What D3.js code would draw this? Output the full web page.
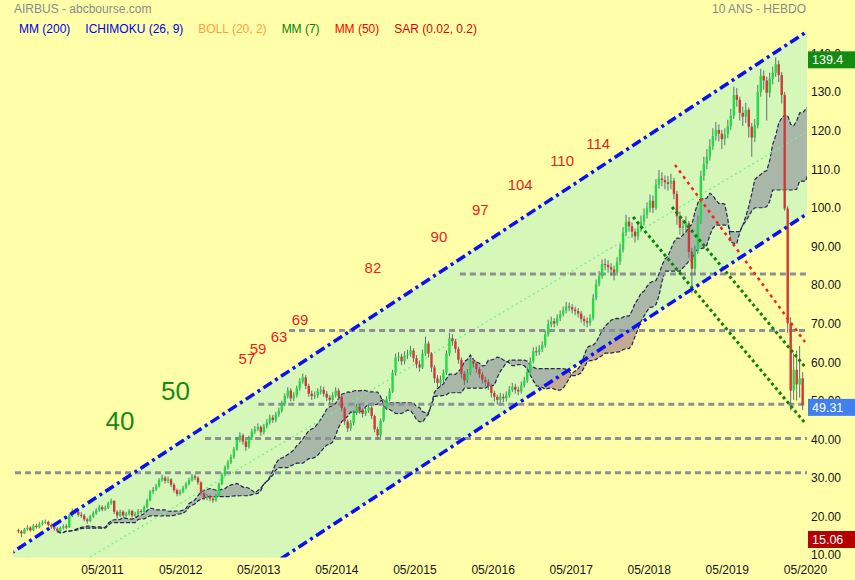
<!DOCTYPE html>
<html><head><meta charset="utf-8">
<script src="https://cdn.jsdelivr.net/npm/d3@7"></script>
<style>html,body{margin:0;padding:0;background:#ffffaa;} svg{display:block;font-family:"Liberation Sans",Arial,sans-serif;}</style>
</head><body><svg id="c" width="855" height="580"></svg>
<script>
// ---------- DATA ----------
const startDate = "2010-04-05";
const stepDays = 14;
const firstOpen = 16.8;
const closes = [16.5,16.0,17.0,17.5,16.8,18.0,17.6,18.4,18.8,19.0,
18.2,17.6,17.2,16.6,17.4,17.8,17.6,20.6,21.8,21.6,
20.8,20.6,19.6,19.2,20.4,21.2,22.0,22.8,22.2,22.6,
23.8,24.4,21.6,20.6,21.6,20.6,21.0,21.8,20.6,21.0,
21.8,21.6,22.8,24.6,26.8,27.4,28.2,29.8,30.4,29.6,
30.0,28.6,27.2,26.2,26.8,27.8,28.8,29.8,30.8,30.4,
29.2,26.4,25.2,25.6,25.0,24.6,25.8,28.8,31.2,33.0,
34.4,35.8,37.8,40.2,41.4,39.8,38.4,40.8,42.4,43.0,
43.6,42.2,43.8,44.8,46.0,45.4,46.8,47.8,49.6,51.6,
53.0,51.0,51.8,53.6,55.4,56.4,54.2,52.2,51.6,51.8,
52.8,53.2,52.2,51.2,50.6,51.8,53.0,51.4,48.4,45.0,
43.2,44.6,47.2,48.8,47.8,47.0,47.8,48.6,46.4,43.0,
41.4,45.2,48.6,50.8,52.8,57.6,61.6,61.8,60.6,62.2,
62.4,63.4,61.4,59.8,59.0,62.6,65.2,62.6,59.0,56.2,
55.0,55.8,57.6,62.6,66.6,65.8,63.8,61.0,57.4,55.6,
57.6,60.6,60.0,58.6,57.2,55.8,55.2,54.2,52.4,51.4,
50.6,51.4,51.0,51.8,53.2,54.0,53.2,52.8,54.4,55.6,
58.0,60.6,63.2,63.0,63.8,64.8,67.6,70.2,71.0,70.4,
71.8,72.8,73.8,74.8,74.6,74.0,73.6,73.0,71.6,71.0,
70.6,71.8,77.0,80.6,82.6,85.8,85.6,85.0,84.4,83.6,
86.4,89.6,94.0,96.8,95.6,94.2,93.0,95.0,96.8,98.6,
100.2,102.2,100.4,106.4,108.0,107.6,107.0,106.6,107.4,104.0,
98.2,95.2,95.6,96.4,89.0,84.6,89.2,97.0,108.6,111.8,
113.6,116.4,119.0,120.6,119.6,118.2,119.4,121.6,124.2,129.6,
128.4,125.0,124.0,125.8,121.4,118.6,121.8,130.4,134.6,133.4,
130.2,133.8,135.4,137.6,134.8,129.6,100.2,70.4,53.0,58.4,
54.6,56.2,49.31];
const highs = [17.2,16.9,17.4,18.1,17.9,18.4,18.5,18.9,19.4,19.6,
19.3,18.6,18.0,17.6,17.8,18.3,18.4,21.0,22.4,22.5,
22.0,21.5,21.0,20.0,20.8,21.7,22.5,23.4,23.3,23.2,
24.2,25.0,24.6,22.0,22.1,22.0,21.6,22.3,22.1,21.6,
22.3,22.3,23.2,25.0,27.2,28.0,28.8,30.3,31.2,30.9,
30.7,30.3,29.0,27.6,27.4,28.3,29.3,30.4,31.4,31.3,
30.8,29.5,26.9,26.3,26.1,25.5,26.3,29.2,31.7,33.6,
35.0,36.5,38.4,40.9,42.2,41.9,40.4,41.3,43.1,43.8,
44.5,44.0,44.4,45.6,46.8,46.7,47.5,48.6,50.4,52.3,
53.9,53.6,52.6,54.3,56.2,57.4,57.0,54.8,53.0,52.8,
53.6,54.2,54.0,52.9,51.9,52.6,53.9,53.6,51.8,48.9,
45.6,45.4,47.9,49.6,49.5,48.4,48.6,49.5,49.0,46.8,
43.6,45.8,49.3,51.6,53.6,58.4,62.6,63.0,62.6,63.2,
63.6,64.6,64.0,62.2,60.8,63.6,67.0,65.8,63.0,59.6,
57.0,56.9,58.5,63.4,68.0,67.6,66.4,64.4,61.6,58.0,
58.6,61.6,61.4,60.6,59.2,57.8,56.6,56.0,54.8,53.0,
52.0,52.4,52.2,52.8,54.2,55.0,54.8,54.0,55.4,56.6,
59.0,61.6,64.2,64.4,64.8,65.8,68.6,71.4,72.2,71.8,
72.8,73.8,74.8,76.0,75.8,75.4,74.8,74.4,73.6,72.4,
72.0,72.8,78.0,81.8,84.0,87.0,87.2,86.8,86.0,85.4,
87.6,91.0,95.4,98.6,98.0,96.6,95.0,96.4,98.4,100.2,
101.8,103.8,103.6,107.8,110.2,109.6,108.8,108.6,109.2,108.2,
104.8,99.4,97.4,98.2,97.0,90.0,90.6,98.4,110.0,113.6,
115.6,118.2,121.0,122.6,122.0,120.6,121.0,123.2,126.0,131.8,
131.4,129.2,126.6,127.6,126.4,122.4,123.4,132.2,136.4,136.0,
134.4,135.4,137.0,139.4,138.6,135.6,130.4,100.8,72.0,62.6,
63.4,64.6,57.8];
const lows = [16.0,15.06,15.8,16.7,16.4,16.6,17.2,17.3,18.0,18.4,
17.8,17.2,16.7,16.1,16.3,17.0,17.1,17.4,20.2,21.0,
20.3,20.0,19.1,18.5,18.9,20.0,20.8,21.6,21.7,21.8,
22.3,23.4,21.0,19.8,20.2,20.0,20.1,20.6,20.1,20.2,
20.7,21.0,21.3,22.5,24.3,26.2,27.0,27.9,29.4,28.9,
29.0,28.0,26.6,25.6,25.8,26.4,27.4,28.4,29.4,29.8,
28.6,25.8,24.6,24.6,24.3,23.9,24.2,25.5,28.5,30.8,
32.5,33.9,35.3,37.4,39.6,39.0,37.4,38.0,40.2,41.8,
42.5,41.3,41.6,43.2,44.2,44.6,44.8,46.2,47.3,49.0,
51.0,50.2,50.3,51.2,53.0,54.8,53.4,51.4,50.6,50.8,
51.1,52.0,51.4,50.3,49.6,50.0,51.2,50.6,47.6,44.1,
42.3,42.6,44.0,46.6,47.0,46.0,46.4,47.2,45.6,42.2,
40.3,40.9,44.8,48.0,50.2,52.4,57.0,60.6,59.6,59.8,
61.2,61.8,60.4,58.8,57.9,58.6,62.0,61.6,57.8,55.0,
53.8,54.0,55.0,57.0,62.0,64.6,62.8,60.0,56.2,54.4,
55.0,57.0,59.0,57.6,56.2,54.8,54.2,53.2,51.2,50.2,
49.4,49.8,50.0,50.2,51.2,52.6,52.2,51.8,52.2,53.8,
55.0,57.4,60.0,62.0,62.2,63.0,64.2,67.0,69.4,69.4,
69.8,71.0,72.2,73.0,73.6,73.0,72.6,72.0,70.6,69.8,
69.4,69.8,71.2,76.4,80.0,82.0,84.2,83.6,82.8,81.6,
82.8,85.6,88.8,93.0,94.2,92.6,91.4,92.0,94.2,95.8,
97.6,99.2,99.0,99.8,105.4,106.0,105.2,104.8,105.2,102.6,
96.0,93.4,93.6,94.0,87.4,78.2,83.0,88.4,96.2,107.4,
110.4,112.6,115.4,117.8,117.6,115.6,116.6,118.4,120.6,123.4,
126.6,123.0,121.6,122.4,118.6,113.6,117.4,121.0,129.2,131.0,
123.0,129.0,132.4,134.4,133.0,127.4,99.6,68.0,47.8,50.6,
50.4,51.2,48.0];

// Ichimoku periods expressed in candles (each candle = 2 weeks): 9w, 26w, 52w, shift 26w
const ichimokuPeriods = [5, 13, 26];
const ichimokuShift = 13;

const xTickDates = ["2011-05-01","2012-05-01","2013-05-01","2014-05-01","2015-05-01","2016-05-01","2017-05-01","2018-05-01","2019-05-01","2020-05-01"];
const yTicks = [10,20,30,40,50,60,70,80,90,100,110,120,130,140];

const supportLevels = [31.7, 40.6, 49.45, 68.6, 83.2];
const supportStarts = ["2010-03-20","2012-08-25","2013-05-01","2013-09-22","2015-11-30"];

const channelUpper = [["2010-03-11", 11.17], ["2020-05-05", 145.9]];
const channelLower = [["2013-08-11", 9.27], ["2020-05-01", 98.5]];
const channelMid = [["2011-03-06", 9.87], ["2020-05-01", 119.8]];
const redTrend = [["2018-09-01", 111.5], ["2020-05-01", 65.6]];
const greenTrendA = [["2018-02-17", 98.0], ["2020-05-01", 44.6]];
const greenTrendB = [["2018-08-18", 100.6], ["2020-05-05", 58.9]];

const levelLabels = ["57","59","63","69","82","90","97","104","110","114"];
const levelLabelDates = ["2013-03-09","2013-04-30","2013-08-06","2013-11-12","2014-10-19","2015-08-24","2016-03-04","2016-09-07","2017-03-22","2017-09-07"];
const levelLabelValues = [61.2, 63.8, 66.9, 71.3, 84.8, 92.8, 99.8, 106.5, 112.5, 117.05];
const bigLabels = ["40","50"];
const bigLabelDates = ["2011-07-24","2012-04-09"];
const bigLabelValues = [45.25, 53.0];

const badgeValues = [139.4, 49.31, 15.06];
const legendItems = ["MM (200)","ICHIMOKU (26, 9)","BOLL (20, 2)","MM (7)","MM (50)","SAR (0.02, 0.2)"];
const titleLeft = "AIRBUS - abcbourse.com";
const titleRight = "10 ANS - HEBDO";

// ---------- CHART ----------
const W = 855, H = 580;
const plot = {left: 13.5, right: 807, top: 0, bottom: 557.5};
const parse = d3.timeParse("%Y-%m-%d");
const t0 = parse(startDate);
const dateAt = i => d3.timeDay.offset(t0, stepDays * i);

const x = d3.scaleTime().domain([parse("2011-05-01"), parse("2020-05-01")]).range([102, 805]);
const y = d3.scaleLinear().domain([10, 140]).range([556.5, 55]);
const FONT = '"Liberation Sans", Arial, sans-serif';

const svg = d3.select("#c");
svg.append("rect").attr("width", W).attr("height", H).attr("fill", "#ffffaa");
const defs = svg.append("defs");
defs.append("clipPath").attr("id", "plotClip").append("rect")
  .attr("x", plot.left).attr("y", plot.top)
  .attr("width", plot.right - plot.left).attr("height", plot.bottom - plot.top);

function linePx(pts) {
  const p = pts.map(d => [x(parse(d[0])), y(d[1])]);
  const m = (p[1][1] - p[0][1]) / (p[1][0] - p[0][0]);
  return xx => p[0][1] + m * (xx - p[0][0]);
}
const upF = linePx(channelUpper), loF = linePx(channelLower);
const chanPoly = [[0, upF(0)], [W, upF(W)], [W, loF(W)], [0, loF(0)]];
const polyStr = chanPoly.map(p => p.join(",")).join(" ");
defs.append("clipPath").attr("id", "chanClip").append("polygon").attr("points", polyStr);

const gp = svg.append("g").attr("clip-path", "url(#plotClip)");
gp.append("polygon").attr("points", polyStr).attr("fill", "#d5f8b8");

// candles
const candles = closes.map((c, i) => {
  const o = i ? closes[i - 1] : firstOpen;
  return {date: dateAt(i), o, c, h: Math.max(highs[i], o, c), l: Math.min(lows[i], o, c)};
});

// ichimoku
function midRange(j, N) {
  let hi = -Infinity, lo = Infinity;
  for (let k = Math.max(0, j - N + 1); k <= j; k++) { hi = Math.max(hi, candles[k].h); lo = Math.min(lo, candles[k].l); }
  return (hi + lo) / 2;
}
const cloud = candles.map((d, j) => ({
  date: dateAt(j + ichimokuShift),
  a: (midRange(j, ichimokuPeriods[0]) + midRange(j, ichimokuPeriods[1])) / 2,
  b: midRange(j, ichimokuPeriods[2])
}));
const area = d3.area().x(d => x(d.date)).y0(d => y(d.b)).y1(d => y(d.a));
gp.append("path").datum(cloud).attr("d", area).attr("fill", "#c4a993");
gp.append("g").attr("clip-path", "url(#chanClip)").append("path").datum(cloud).attr("d", area).attr("fill", "#a9b7a9");
["a", "b"].forEach(k => {
  gp.append("path").datum(cloud)
    .attr("d", d3.line().x(d => x(d.date)).y(d => y(d[k])))
    .attr("fill", "none").attr("stroke", "#1e2b50").attr("stroke-width", 1.2).attr("stroke-dasharray", "4,2");
});

const seg = d3.line().x(d => x(parse(d[0]))).y(d => y(d[1]));
// midline
gp.append("path").attr("d", seg(channelMid)).attr("fill", "none")
  .attr("stroke", "#78ee8c").attr("stroke-width", 1.3).attr("stroke-dasharray", "2,3");

// support lines
const xEnd = x.invert(plot.right);
gp.selectAll(".sup").data(supportLevels).enter().append("line")
  .attr("x1", (d, i) => x(parse(supportStarts[i]))).attr("x2", x(xEnd))
  .attr("y1", d => y(d)).attr("y2", d => y(d))
  .attr("stroke", "#8c9196").attr("stroke-width", 3).attr("stroke-dasharray", "6,4");

// candles draw
const bw = 2.4;
const cg = gp.append("g");
cg.selectAll(".wick").data(candles).enter().append("line")
  .attr("x1", d => x(d.date)).attr("x2", d => x(d.date))
  .attr("y1", d => y(d.h)).attr("y2", d => y(d.l))
  .attr("stroke", "#5a7378").attr("stroke-width", 1);
cg.selectAll(".body").data(candles).enter().append("rect")
  .attr("x", d => x(d.date) - bw / 2).attr("width", bw)
  .attr("y", d => y(Math.max(d.o, d.c)))
  .attr("height", d => Math.max(1, Math.abs(y(d.o) - y(d.c))))
  .attr("fill", d => d.c >= d.o ? "#20dc46" : "#d23838");

// trend lines
gp.append("path").attr("d", seg(redTrend)).attr("fill", "none")
  .attr("stroke", "#ff1c1c").attr("stroke-width", 2.5).attr("stroke-dasharray", "3,4");
[greenTrendA, greenTrendB].forEach(t => {
  gp.append("path").attr("d", seg(t)).attr("fill", "none")
    .attr("stroke", "#0f820f").attr("stroke-width", 3).attr("stroke-dasharray", "3,3");
});
// channel lines
[channelUpper, channelLower].forEach(t => {
  const p = t.map(d => x(parse(d[0])));
  const f = linePx(t);
  gp.append("line").attr("x1", 0).attr("y1", f(0)).attr("x2", W).attr("y2", f(W))
    .attr("stroke", "#0a10f5").attr("stroke-width", 3.5).attr("stroke-dasharray", "10,4,3,4");
});

// annotation numbers
svg.selectAll(".lvl").data(levelLabels).enter().append("text")
  .attr("x", (d, i) => x(parse(levelLabelDates[i]))).attr("y", (d, i) => y(levelLabelValues[i]))
  .attr("dy", "0.36em").attr("text-anchor", "middle")
  .attr("font-family", FONT).attr("font-size", 15).attr("fill", "#ee1c1c").text(d => d);
svg.selectAll(".big").data(bigLabels).enter().append("text")
  .attr("x", (d, i) => x(parse(bigLabelDates[i]))).attr("y", (d, i) => y(bigLabelValues[i]))
  .attr("dy", "0.36em").attr("text-anchor", "middle")
  .attr("font-family", FONT).attr("font-size", 26).attr("fill", "#168a16").text(d => d);

// axes
const ya = svg.append("g").attr("transform", `translate(${plot.right},0)`)
  .call(d3.axisRight(y).tickValues(yTicks).tickSize(0).tickPadding(4)
    .tickFormat(v => v >= 100 ? v.toFixed(1) : v.toFixed(2)));
ya.select(".domain").remove();
ya.attr("font-family", FONT).attr("font-size", 12);
ya.selectAll("text").attr("fill", "#151515").attr("dy", "0.2em");

const xa = svg.append("g").attr("transform", `translate(0,${plot.bottom})`)
  .call(d3.axisBottom(x).tickValues(xTickDates.map(parse)).tickSize(0).tickPadding(7.5)
    .tickFormat(d3.timeFormat("%m/%Y")));
xa.select(".domain").remove();
xa.attr("font-family", FONT).attr("font-size", 12);
xa.selectAll("text").attr("fill", "#151515");

// badges
const badgeColors = ["#148c14", "#3f7ff0", "#b40000"];
const bg = svg.selectAll(".badge").data(badgeValues).enter().append("g");
bg.append("rect").attr("x", 808).attr("width", W - 808).attr("height", 17)
  .attr("y", d => y(d) - 6).attr("fill", (d, i) => badgeColors[i]);
bg.append("text").attr("x", 812).attr("y", d => y(d) + 7)
  .attr("font-family", FONT).attr("font-size", 12.5).attr("fill", "#ffffff")
  .text(d => d >= 100 ? d.toFixed(1) : d.toFixed(2));

// titles
svg.append("text").attr("x", 14).attr("y", 12.5).attr("font-family", FONT).attr("font-size", 12)
  .attr("fill", "#8a8a8a").text(titleLeft);
svg.append("text").attr("x", 806).attr("y", 12.5).attr("text-anchor", "end").attr("font-family", FONT).attr("font-size", 12)
  .attr("fill", "#8a8a8a").text(titleRight);

// legend
const legendColors = ["#0000ee", "#0000ee", "#ffa040", "#0a800a", "#ff0000", "#dd0000"];
let lx = 19;
legendItems.forEach((t, i) => {
  const tx = svg.append("text").attr("x", lx).attr("y", 33).attr("font-family", FONT).attr("font-size", 12)
    .attr("fill", legendColors[i]).text(t);
  lx += tx.node().getComputedTextLength() + 15;
});
</script></body></html>
